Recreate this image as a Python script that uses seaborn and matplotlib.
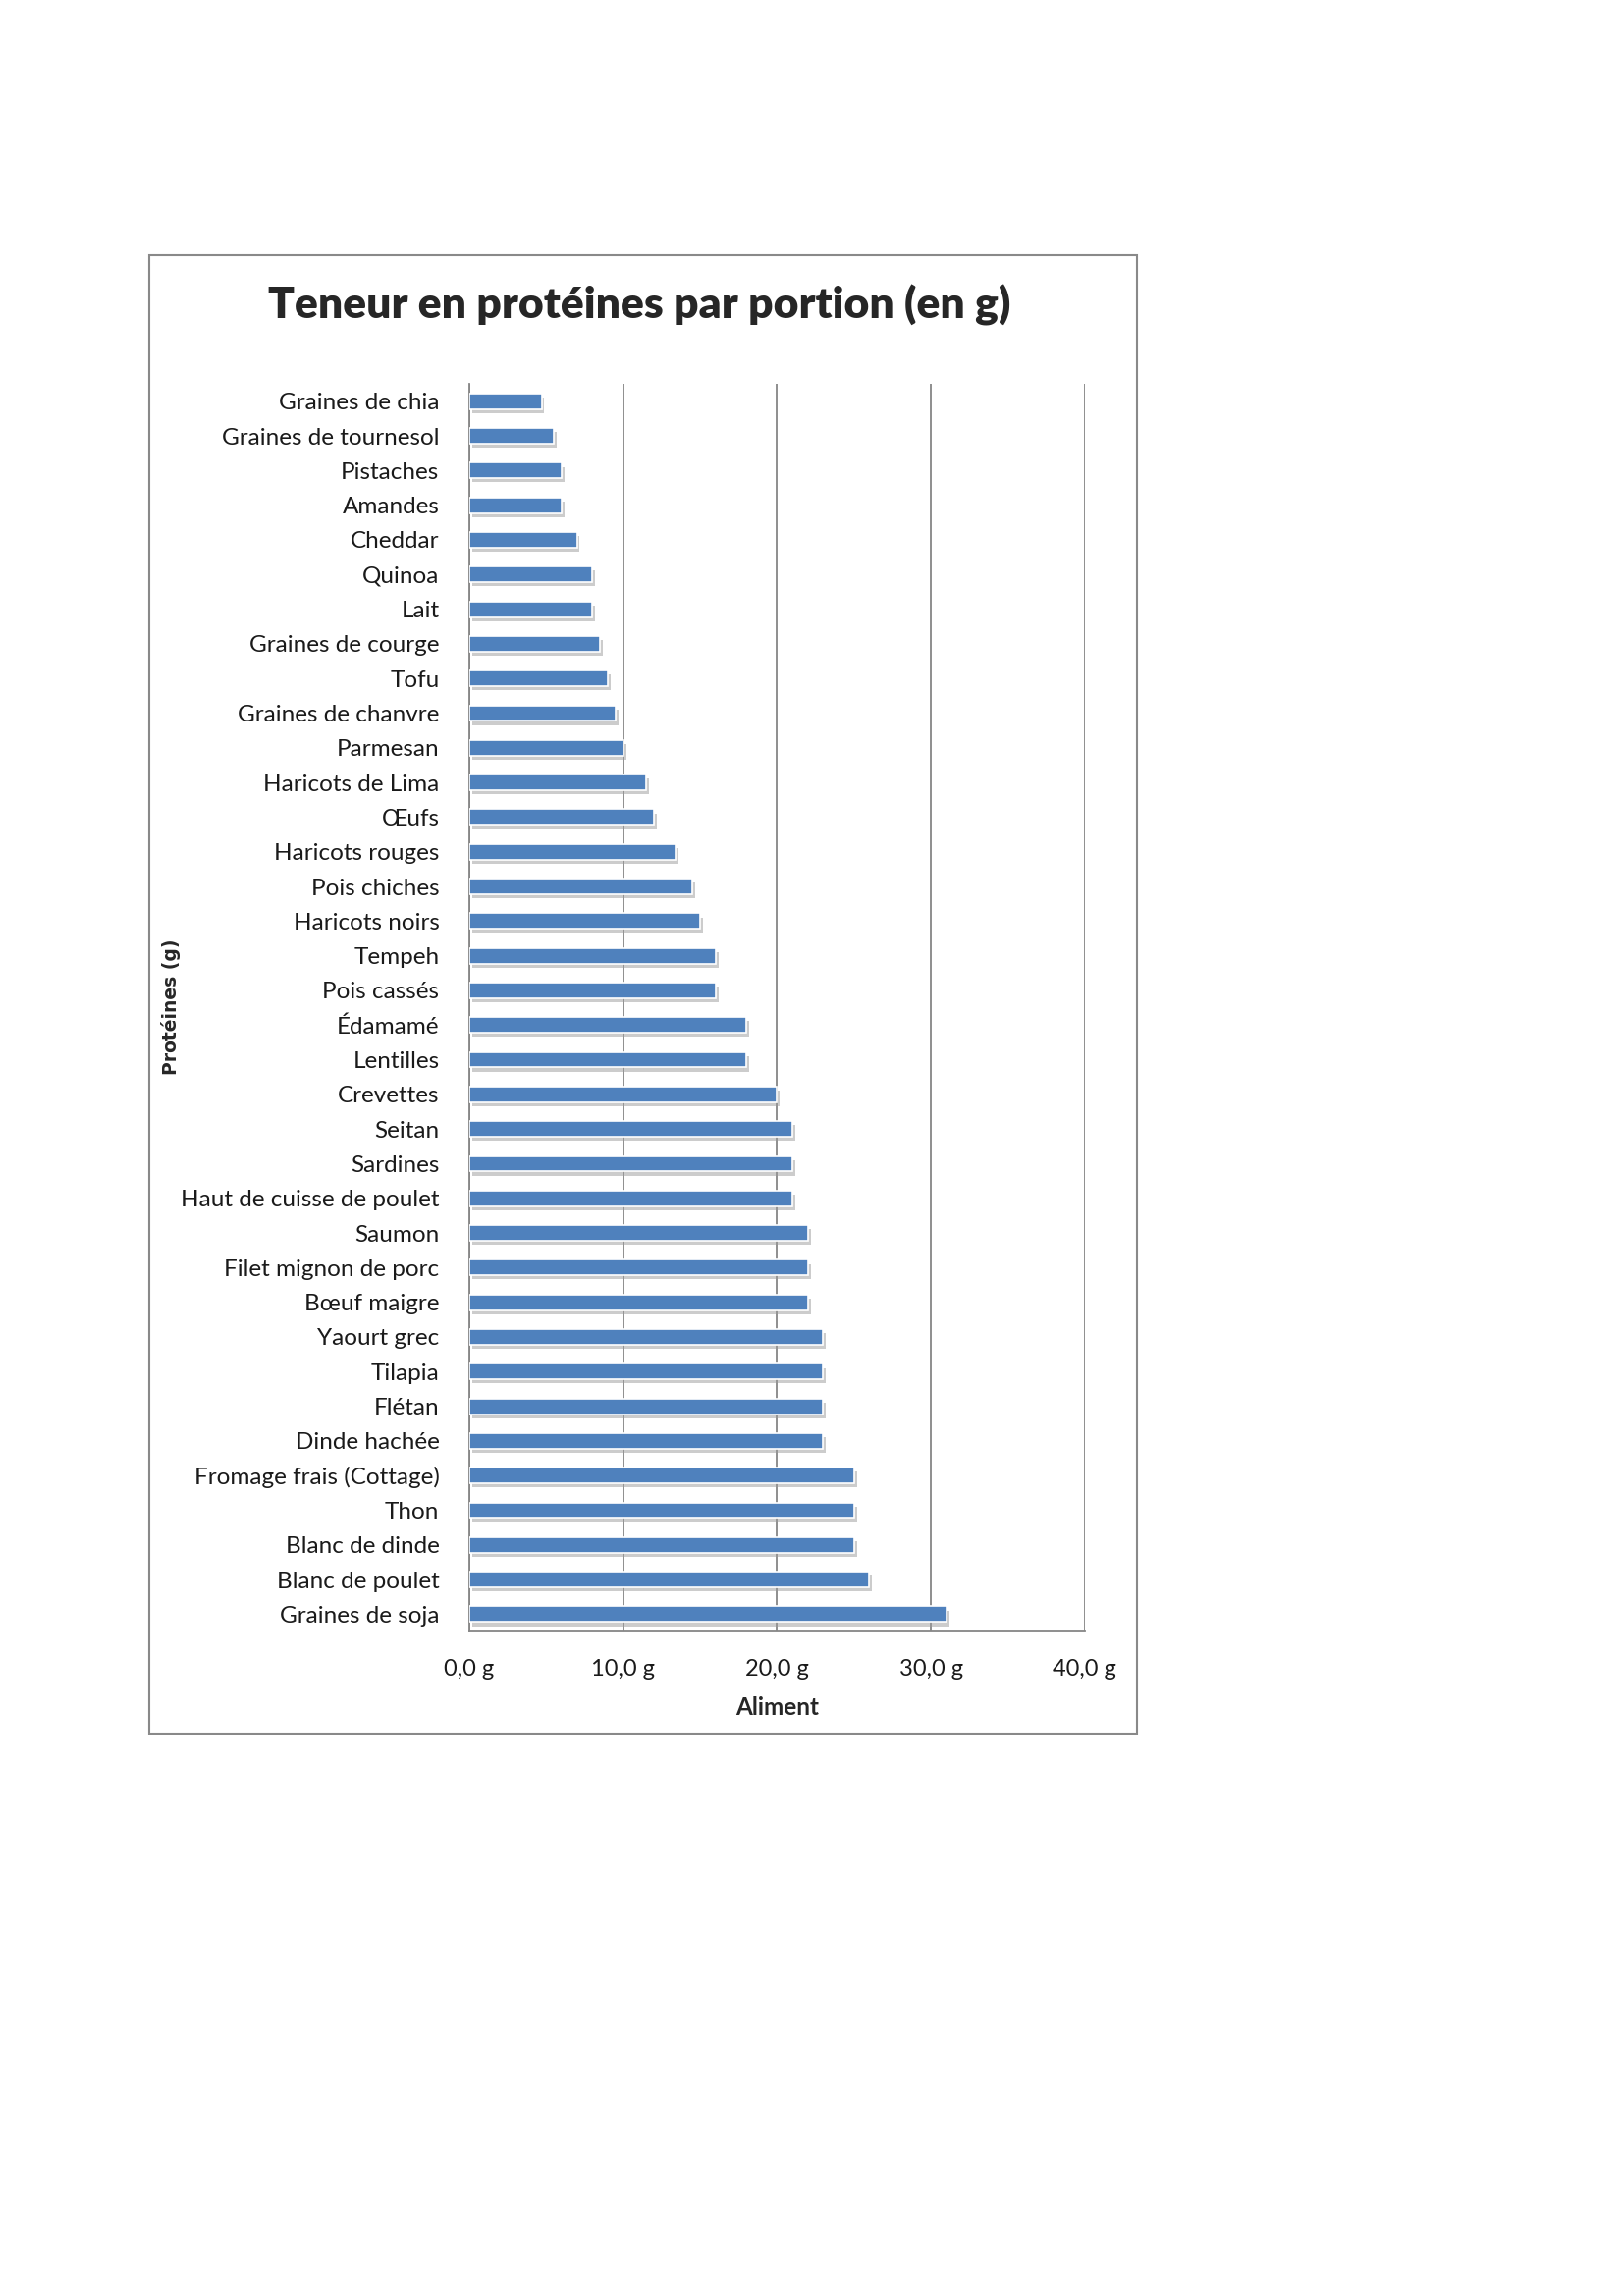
import matplotlib
matplotlib.use("Agg")
import matplotlib.pyplot as plt
import matplotlib.patheffects as pe
from matplotlib.patches import Rectangle
from matplotlib.ticker import FuncFormatter
import pandas as pd
import seaborn as sns

# Data
aliments = [
    "Graines de chia", "Graines de tournesol", "Pistaches", "Amandes", "Cheddar",
    "Quinoa", "Lait", "Graines de courge", "Tofu", "Graines de chanvre",
    "Parmesan", "Haricots de Lima", "Œufs", "Haricots rouges", "Pois chiches",
    "Haricots noirs", "Tempeh", "Pois cassés", "Édamamé", "Lentilles",
    "Crevettes", "Seitan", "Sardines", "Haut de cuisse de poulet", "Saumon",
    "Filet mignon de porc", "Bœuf maigre", "Yaourt grec", "Tilapia", "Flétan",
    "Dinde hachée", "Fromage frais (Cottage)", "Thon", "Blanc de dinde",
    "Blanc de poulet", "Graines de soja",
]
proteines = [
    4.7, 5.5, 6, 6, 7,
    8, 8, 8.5, 9, 9.5,
    10, 11.5, 12, 13.4, 14.5,
    15, 16, 16, 18, 18,
    20, 21, 21, 21, 22,
    22, 22, 23, 23, 23,
    23, 25, 25, 25,
    26, 31,
]
x_ticks = [0, 10, 20, 30, 40]

df = pd.DataFrame({"Aliment": aliments, "Proteines": proteines})

sns.set_style("white")
plt.rcParams["font.family"] = ["Lato", "DejaVu Sans"]

fig = plt.figure(figsize=(16.54, 23.39), dpi=100)
ax = fig.add_axes([0.289, 0.2894, 0.379, 0.5434])

sns.barplot(data=df, x="Proteines", y="Aliment", color="#4F81BD", saturation=1,
            width=0.45, edgecolor="white", linewidth=1.2, ax=ax, zorder=3)

shadow = [pe.SimplePatchShadow(offset=(2, -3), shadow_rgbFace="#9a9a9a", alpha=0.5),
          pe.Normal()]
for p in ax.patches:
    p.set_path_effects(shadow)

ax.set_xlim(0, 40)
ax.set_xticks(x_ticks)
ax.xaxis.set_major_formatter(FuncFormatter(lambda v, _: f"{v:.1f} g".replace(".", ",")))
ax.grid(axis="x", color="#868686", linewidth=1.3, zorder=0)
ax.grid(axis="y", visible=False)
for side in ["top", "right"]:
    ax.spines[side].set_visible(False)
for side in ["left", "bottom"]:
    ax.spines[side].set_color("#868686")
    ax.spines[side].set_linewidth(1.3)
ax.tick_params(axis="y", length=0, labelsize=17.5, colors="#1a1a1a", pad=22)
ax.tick_params(axis="x", length=0, labelsize=17, colors="#1a1a1a", pad=20)

ax.set_xlabel("Aliment", fontsize=17.5, fontweight="bold", labelpad=12)
ax.set_ylabel("")
fig.text(0.105, 0.5614, "Protéines (g)", rotation=90, ha="center", va="center",
         fontsize=13.5, fontweight="bold", family=["DejaVu Sans"])

fig.text(0.394, 0.867, "Teneur en protéines par portion (en g)", ha="center",
         va="center", fontsize=32, fontweight="heavy")

border = Rectangle((0.0919, 0.245), 0.7 - 0.0919, 0.8888 - 0.245,
                   transform=fig.transFigure, fill=False, edgecolor="#898989",
                   linewidth=1.5)
fig.patches.append(border)

fig.savefig("out.png", dpi=100, facecolor="white")
